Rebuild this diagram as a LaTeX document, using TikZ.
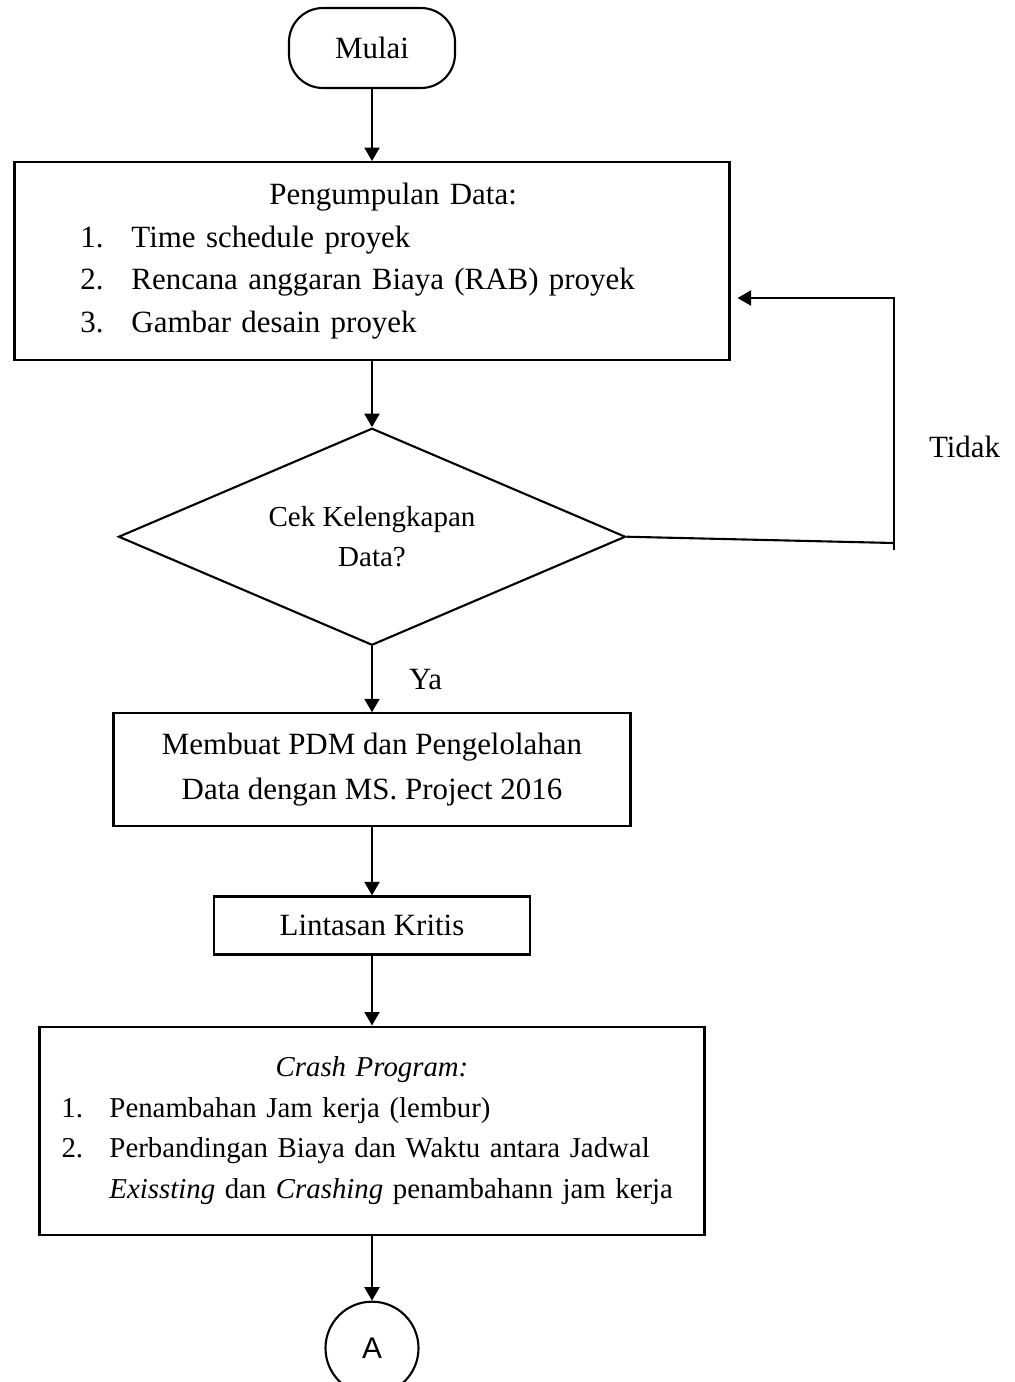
\documentclass[tikz,border=0pt]{standalone}
\usepackage{fontspec}
\setmainfont{Liberation Serif}
\newfontfamily\sansA{Liberation Sans}
\usetikzlibrary{arrows.meta,positioning,shapes.geometric,calc}
\tikzset{
  term/.style={draw,line width=1.2pt,rounded corners=0.68cm,minimum width=3.32cm,minimum height=1.6cm,inner sep=0pt,font=\fontsize{17.6}{24}\selectfont},
  proc/.style={draw,line width=1.2pt,inner sep=0pt,align=center,font=\fontsize{17.6}{25.6}\selectfont},
  decide/.style={draw,line width=1.2pt,diamond,aspect=2.34,inner sep=0pt,align=center,font=\fontsize{16.5}{22.8}\selectfont},
  conn/.style={draw,line width=1.2pt,circle,minimum size=1.86cm,inner sep=0pt,font=\sansA\fontsize{17}{18}\selectfont},
  lbl/.style={inner sep=0pt,font=\fontsize{17.6}{22}\selectfont},
  fl/.style={-{Triangle[length=0.27cm,width=0.3cm]},line width=1.2pt},
  ln/.style={line width=1.2pt}}

\begin{document}
\begin{tikzpicture}
\useasboundingbox (0,0) rectangle (20.3,-27.64);

\node[term] (mulai) at (7.44,-0.96) {Mulai};
\node[proc,below=1.44cm of mulai,minimum width=14.3cm,minimum height=3.96cm,
  text width=14.3cm,align=left,font=\fontsize{17.6}{24.2}\selectfont] (data) {%
  \hspace*{5.1cm}Pengumpulan Data:\\
  \hspace*{1.32cm}\makebox[1.02cm][l]{1.}Time schedule proyek\\
  \hspace*{1.32cm}\makebox[1.02cm][l]{2.}Rencana anggaran Biaya (RAB) proyek\\
  \hspace*{1.32cm}\makebox[1.02cm][l]{3.}Gambar desain proyek};
\node[decide,below=1.32cm of data,minimum width=10.14cm,minimum height=4.34cm] (cek)
  {Cek Kelengkapan\\ Data?};
\node[proc,below=1.32cm of cek,minimum width=10.34cm,minimum height=2.26cm] (olah)
  {Membuat PDM dan Pengelolahan\\ Data dengan MS. Project 2016};
\node[proc,below=1.36cm of olah,minimum width=6.32cm,minimum height=1.16cm] (kritis)
  {Lintasan Kritis};
\node[proc,below=1.40cm of kritis,minimum width=13.3cm,minimum height=4.16cm,
  text width=13.3cm,align=left,font=\fontsize{16.4}{23.3}\selectfont] (crash) {%
  \makebox[\linewidth][c]{\itshape Crash Program:}\\
  \hspace*{0.44cm}\makebox[0.96cm][l]{1.}Penambahan Jam kerja (lembur)\\
  \hspace*{0.44cm}\makebox[0.96cm][l]{2.}Perbandingan Biaya dan Waktu antara Jadwal\\
  \hspace*{1.4cm}\textit{Exissting} dan \textit{Crashing} penambahann jam kerja\par\vspace{0.48cm}};
\node[conn,below=1.30cm of crash] (konA) {A};

\draw[fl] (mulai) -- (data);
\draw[fl] (data) -- (cek);
\draw[fl] (cek) -- node[lbl,right=0.72cm]{Ya} (olah);
\draw[fl] (olah) -- (kritis);
\draw[fl] (kritis) -- (crash);
\draw[fl] (crash) -- (konA);

\coordinate (tdkB) at (17.88,-10.86);
\coordinate (tdkE) at (17.88,-11.0);
\coordinate (tdkT) at (17.88,-5.96);
\draw[ln] (cek.east) -- (tdkB);
\draw[fl,shorten >=0.14cm] (tdkE) -- node[lbl,pos=0.41,right=0.68cm]{Tidak} (tdkT)
  -- (data.east |- tdkT);
\end{tikzpicture}
\end{document}
